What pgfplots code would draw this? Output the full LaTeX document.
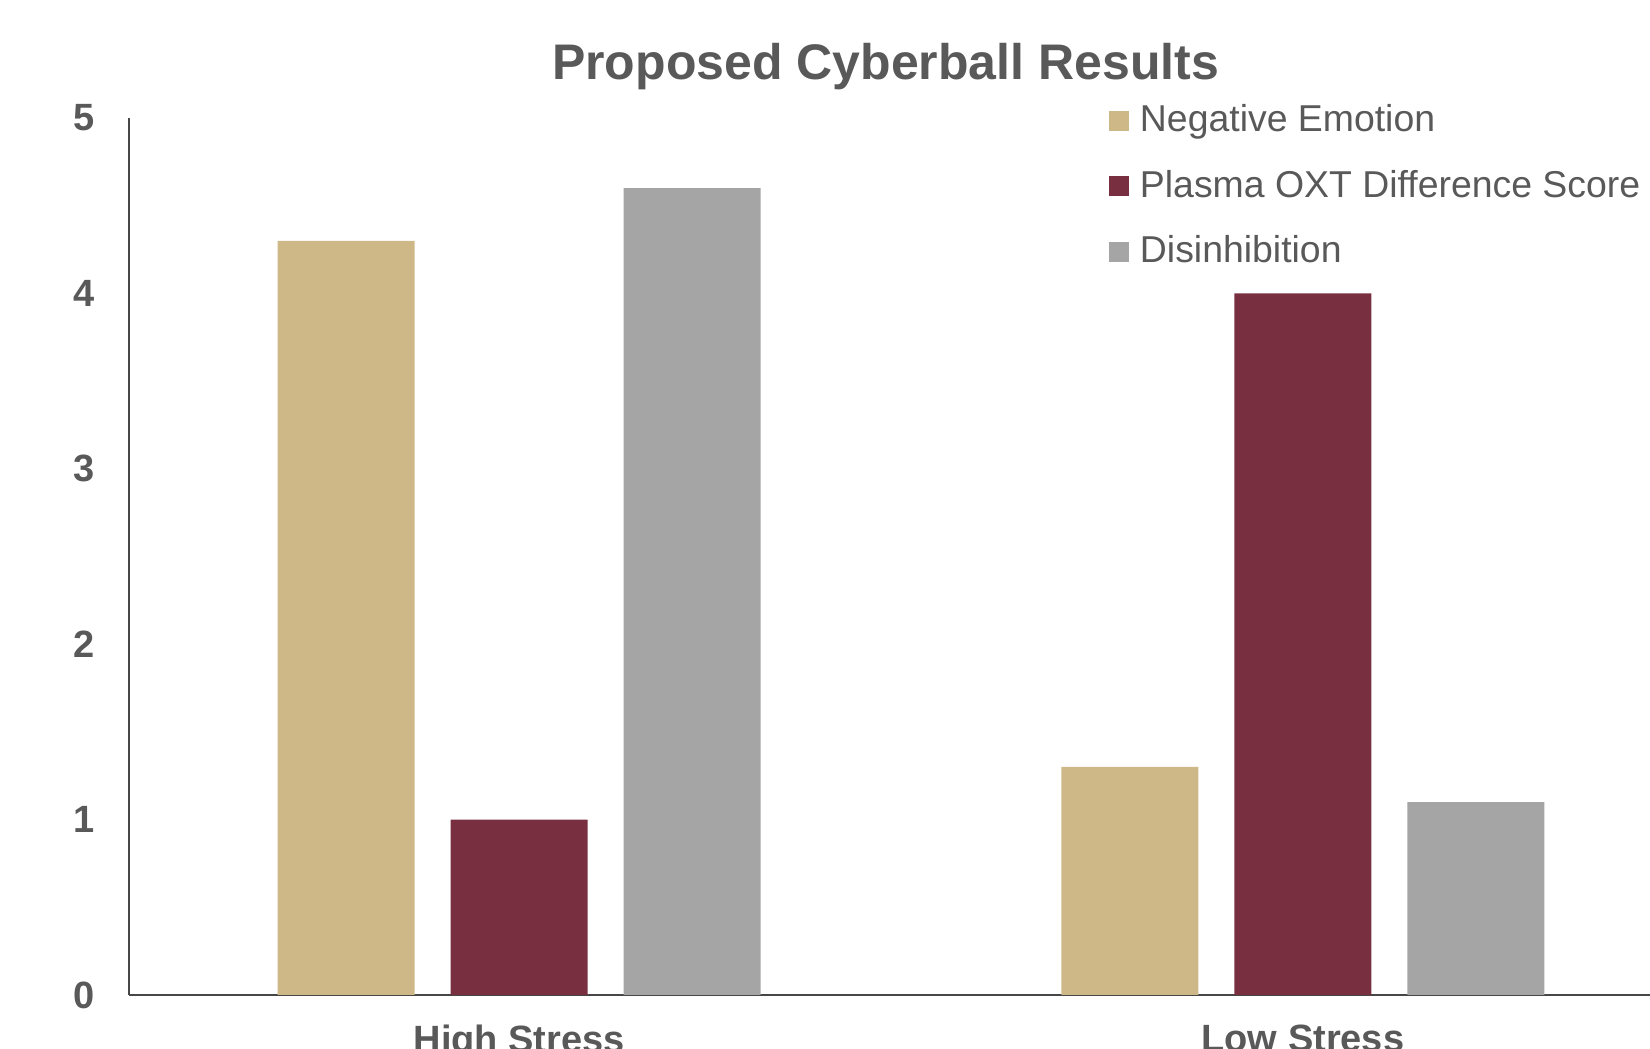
\documentclass[border=0pt]{standalone}
\usepackage{fontspec}
\setmainfont{Liberation Sans}
\usepackage{pgfplots}
\pgfplotsset{compat=1.18}
\definecolor{tanc}{HTML}{CEB888}
\definecolor{garnet}{HTML}{782F40}
\definecolor{grayc}{HTML}{A5A5A5}
\definecolor{txt}{HTML}{595959}
\begin{document}
\begin{tikzpicture}
\path[use as bounding box] (-64.5pt,-27pt) rectangle (760.5pt,497.5pt);
\begin{scope}
\clip (-64.5pt,-27pt) rectangle (760.5pt,497.5pt);
\begin{axis}[
  at={(0pt,0pt)}, anchor=south west,
  scale only axis, width=760.5pt, height=438.5pt,
  xmin=-0.498, xmax=1.443, ymin=0, ymax=5,
  axis x line=bottom, axis y line=left,
  axis line style={-, draw=black!72, line width=0.8pt},
  ybar=18pt, bar width=68.5pt,
  xtick={0,1}, xticklabels={High Stress, Low Stress},
  ytick={0,1,2,3,4,5},
  major tick length=0pt,
  /pgf/number format/assume math mode=true,
  ticklabel style={font=\fontsize{19}{22}\selectfont\bfseries, text=txt, inner sep=0pt},
  yticklabel style={anchor=east, xshift=-17pt},
  xticklabel style={anchor=north, yshift=-15pt},
  title={Proposed Cyberball Results},
  title style={at={(axis description cs:0.4974,1)}, anchor=base, yshift=13pt, inner sep=0pt,
    font=\fontsize{25}{30}\selectfont\bfseries, text=txt},
  legend style={at={(axis description cs:0.6443,1.0148)}, anchor=north west, draw=none, fill=none,
    inner sep=0pt, outer sep=0pt,
    font=\fontsize{18.7}{22}\selectfont, text=txt,
    nodes={inner sep=0pt, text height=13.3pt, text depth=0pt},
    row sep=19.4pt, column sep=5.5pt},
  legend cell align=left,
  legend image code/.code={\fill[#1] (0pt,-6.35pt) rectangle (10pt,3.65pt);},
]
\addplot[fill=tanc, draw=none] coordinates {(0,4.3) (1,1.3)};
\addplot[fill=garnet, draw=none] coordinates {(0,1.0) (1,4.0)};
\addplot[fill=grayc, draw=none] coordinates {(0,4.6) (1,1.1)};
\legend{Negative Emotion, Plasma OXT Difference Score, Disinhibition}
\end{axis}
\end{scope}
\end{tikzpicture}
\end{document}
